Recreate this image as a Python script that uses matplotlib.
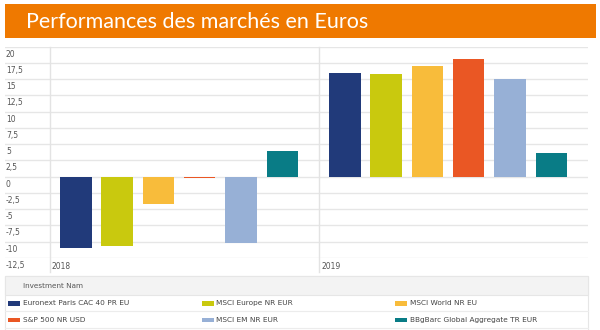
import matplotlib.pyplot as plt
from matplotlib.patches import Rectangle

categories = ['2018', '2019']
series = ['Euronext Paris CAC 40 PR EU', 'MSCI Europe NR EUR', 'MSCI World NR EU',
          'S&P 500 NR USD', 'MSCI EM NR EUR', 'BBgBarc Global Aggregate TR EUR']
colors = ['#213a7a', '#c9c90e', '#f8bc3b', '#ea5724', '#97b0d6', '#097c86']
values = {
    '2018': [-11.0, -10.7, -4.15, -0.25, -10.25, 4.0],
    '2019': [15.9, 15.8, 17.1, 18.15, 15.0, 3.7],
}
yticks = [20, 17.5, 15, 12.5, 10, 7.5, 5, 2.5, 0, -2.5, -5, -7.5, -10, -12.5]
ytick_labels = ['20', '17,5', '15', '12,5', '10', '7,5', '5', '2,5', '0',
                '-2,5', '-5', '-7,5', '-10', '-12,5']
title = 'Performances des marchés en Euros'
legend_title = 'Investment Nam'

W, H = 600, 330
fig = plt.figure(figsize=(W / 100, H / 100), dpi=100)


def fx(x):
    return x / W


def fy(y):
    return 1 - y / H


# bandeau du titre
fig.add_artist(Rectangle((fx(4.5), fy(38)), fx(591.5), 34 / H, transform=fig.transFigure,
                         facecolor='#ef7900', edgecolor='none'))
fig.text(fx(26), fy(21.5), title, color='white', fontsize=15.5, va='center', ha='left',
         family=['Lato', 'DejaVu Sans'])

# zone du graphique (gridlines a partir de x=5)
cat_px = 269.0
left_px, right_px = 5, 588
top_px, bot_px = 46.7, 258
ax = fig.add_axes([fx(left_px), fy(bot_px), fx(right_px - left_px), (bot_px - top_px) / H])
ax.set_xlim(-(50 - left_px) / cat_px, (right_px - 50) / cat_px)
ax.set_ylim(-12.5, 20)
for s in ax.spines.values():
    s.set_visible(False)
ax.set_xticks([])
ax.set_yticks([])

for t in yticks:
    ax.axhline(t, color='#e6e6e6', lw=1, zorder=0)
for t, lab in zip(yticks, ytick_labels):
    ax.text(-(50 - left_px - 1) / cat_px, t - 0.45, lab, fontsize=5.5, color='#555555',
            va='top', ha='left')

ext = 14 / (bot_px - top_px)
for i, cat in enumerate(categories):
    ax.axvline(i, ymin=-ext, ymax=1, color='#e3e3e3', lw=1, clip_on=False, zorder=0)
    ax.text(i + 2 / cat_px, -12.5 - 1.3, cat, fontsize=5.5, color='#555555',
            va='center', ha='left', clip_on=False)
    for k, v in enumerate(values[cat]):
        x0 = i + (10 + 41.3 * k) / cat_px
        ax.bar(x0, v, width=31.5 / cat_px, align='edge', color=colors[k],
               edgecolor='none', zorder=2)

# legende
fig.add_artist(Rectangle((fx(5), fy(330)), fx(583), 54 / H, transform=fig.transFigure,
                         facecolor='white', edgecolor='#e6e6e6', lw=0.8))
fig.add_artist(Rectangle((fx(5), fy(295)), fx(583), 19 / H, transform=fig.transFigure,
                         facecolor='#f3f3f3', edgecolor='#e6e6e6', lw=0.8))
fig.text(fx(23), fy(286), legend_title, fontsize=5.2, color='#555555', va='center')
for yline in [311, 328]:
    fig.add_artist(plt.Line2D([fx(5), fx(588)], [fy(yline), fy(yline)], color='#ececec',
                              lw=0.8, transform=fig.transFigure))
col_x = [8, 201.5, 395]
row_y = [303.3, 320]
for k, name in enumerate(series):
    cx = col_x[k % 3]
    cy = row_y[k // 3]
    fig.add_artist(Rectangle((fx(cx), fy(cy + 2.3)), fx(12), 4.6 / H, transform=fig.transFigure,
                             facecolor=colors[k], edgecolor='none'))
    fig.text(fx(cx + 15), fy(cy), name, fontsize=5.3, color='#444444', va='center')

fig.savefig('out.png', dpi=100)
